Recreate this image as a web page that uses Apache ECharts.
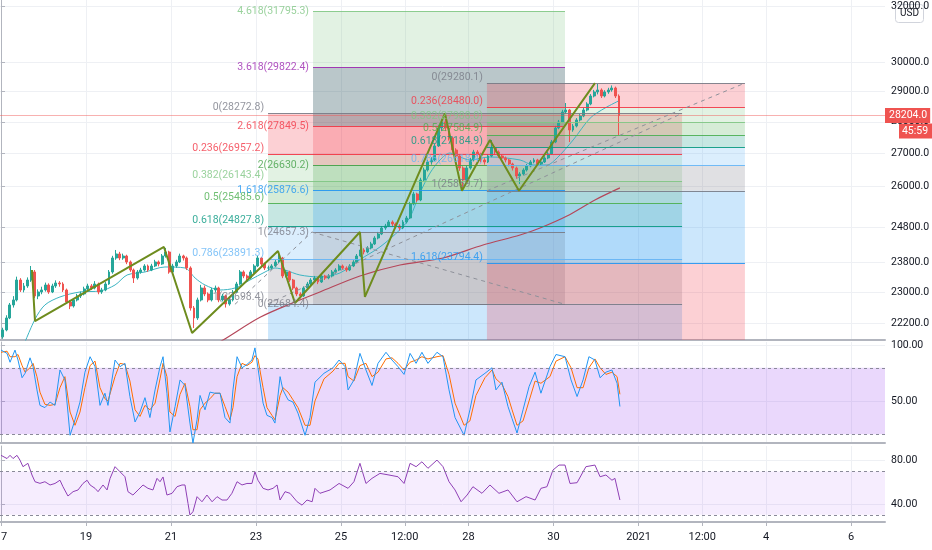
<!DOCTYPE html>
<html><head><meta charset="utf-8">
<script src="https://cdn.jsdelivr.net/npm/echarts@6/dist/echarts.min.js"></script>
<style>html,body{margin:0;padding:0;background:#fff}#c{width:932px;height:550px}</style>
</head><body><div id="c"></div>
<script>
// ---------- DATA ----------
// time axis: hours since 17 Dec 2020 00:00
const xTickHours = [0,48,96,144,192,228,264,312,360,396,432,480];
const xTickLabels = ['17','19','21','23','25','12:00','28','30','2021','12:00','4','6'];
const priceTicks = [22200,23000,23800,24800,26000,27000,28000,29000,30000,32000];
const stochTicks = [50,100];
const rsiTicks = [40,80];

const candleStartHour = 0, candleStepHours = 2;
// [open, close, low, high]
const candleOHLC = [
[21850,22023,21800,22080],[22023,22330,21990,22400],[22330,22668,22300,22720],[22668,22799,22600,22900],
[22799,23330,22760,23420],[23330,23063,23010,23380],[23063,23170,23000,23250],[23170,23330,23120,23400],
[23330,23547,23280,23710],[23547,22904,22850,23600],[22904,23010,22820,23080],[23010,23063,22950,23150],
[23063,23196,23020,23260],[23196,23010,22960,23240],[23010,23170,22980,23230],[23170,23250,23120,23320],
[23250,23223,23150,23300],[23223,23063,23010,23270],[23063,22746,22700,23100],[22746,22641,22560,22800],
[22641,22799,22600,22850],[22799,22904,22760,22960],[22904,22957,22850,23020],[22957,23090,22920,23150],
[23090,23170,23040,23230],[23170,23116,23060,23220],[23116,23223,23080,23300],[23223,23010,22950,23260],
[23010,23063,22960,23120],[23063,23223,23030,23280],[23223,23547,23200,23600],[23547,23930,23500,23990],
[23930,24041,23880,24152],[24041,23930,23870,24100],[23930,23985,23880,24050],[23985,23820,23760,24020],
[23820,23601,23550,23860],[23601,23384,23250,23640],[23384,23547,23340,23600],[23547,23601,23500,23660],
[23601,23710,23560,23760],[23710,23601,23550,23750],[23601,23710,23570,23770],[23710,23820,23680,23880],
[23820,23765,23700,23860],[23765,23985,23740,24040],[23985,24096,23940,24208],[24096,23547,23500,24130],
[23547,23710,23480,23770],[23710,23820,23660,23880],[23820,23985,23790,24050],[23985,23930,23860,24020],
[23930,23656,23600,23970],[23656,22589,22520,23700],[22589,22330,22074,22640],[22330,22799,22280,22860],
[22799,23116,22760,23200],[23116,22957,22900,23180],[22957,22799,22740,23000],[22799,23063,22760,23120],
[23063,23116,23000,23180],[23116,22799,22740,23150],[22799,22904,22760,22960],[22904,22694,22600,22940],
[22694,22799,22650,22860],[22799,23010,22760,23060],[23010,23223,22980,23280],[23223,23547,23200,23600],
[23547,23438,23380,23590],[23438,23384,23320,23480],[23384,23547,23350,23600],[23547,23710,23500,23760],
[23710,23930,23680,23990],[23930,23765,23700,23960],[23765,23656,23600,23800],[23656,23656,23590,23720],
[23656,23710,23610,23760],[23710,23820,23680,23880],[23820,23930,23790,24041],[23930,23438,23380,23960],
[23438,23547,23400,23600],[23547,23330,23280,23580],[23330,23116,23060,23360],[23116,22957,22900,23150],
[22957,22904,22840,23000],[22904,23116,22880,23160],[23116,23223,23080,23280],[23223,23330,23190,23380],
[23330,23384,23290,23440],[23384,23277,23220,23410],[23277,23438,23250,23490],[23438,23384,23330,23470],
[23384,23438,23350,23490],[23438,23547,23400,23600],[23547,23601,23500,23650],[23601,23710,23570,23760],
[23710,23656,23600,23750],[23656,23601,23550,23700],[23601,23710,23570,23760],[23710,23820,23680,23870],
[23820,23985,23790,24040],[23985,24152,23950,24602],[24152,24096,24030,24200],[24096,24208,24060,24260],
[24208,24320,24170,24380],[24320,24488,24290,24540],[24488,24602,24450,24660],[24602,24773,24570,24830],
[24773,24830,24720,24890],[24830,24944,24800,25000],[24944,24887,24820,24990],[24887,24830,24760,24930],
[24830,24773,24700,24880],[24773,24944,24740,25000],[24944,25060,24900,25120],[25060,25468,25030,25530],
[25468,25763,25430,25830],[25763,25586,25520,25800],[25586,26183,25550,26250],[26183,26486,26150,26560],
[26486,26732,26440,26800],[26732,26794,26650,26880],[26794,27230,26760,27300],[27230,27801,27200,27880],
[27801,27994,27700,28080],[27994,27801,27700,28272],[27801,27482,27400,27850],[27482,27104,27020,27520],
[27104,26918,26840,27160],[26918,26548,26460,26960],[26548,26183,25900,26600],[26183,26548,26140,26620],
[26548,26794,26500,26860],[26794,27042,26750,27110],[27042,26980,26900,27100],[26980,26794,26720,27020],
[26794,26732,26650,26850],[26732,26918,26700,26980],[26918,27167,26880,27419],[27167,27042,26960,27220],
[27042,26918,26850,27090],[26918,26856,26790,26960],[26856,26794,26720,26900],[26794,26671,26600,26830],
[26671,26548,26470,26710],[26548,26304,26220,26590],[26304,26365,26062,26420],[26365,26486,26320,26540],
[26486,26609,26440,26670],[26609,26732,26570,26790],[26732,26794,26690,26850],[26794,26671,26610,26830],
[26671,26732,26620,26790],[26732,26856,26700,26910],[26856,26980,26820,27040],[26980,27356,26950,27420],
[27356,27801,27320,27870],[27801,27994,27760,28060],[27994,28319,27960,28390],[28319,28384,28250,28614],
[28384,27737,27356,28420],[27737,27865,27680,27930],[27865,28059,27820,28120],[28059,28189,28010,28250],
[28189,28384,28150,28450],[28384,28581,28340,28640],[28581,28846,28540,28910],[28846,28980,28800,29050],
[28980,29047,28900,29249],[29047,28846,28780,29100],[28846,28980,28800,29040],[28980,29047,28920,29120],
[29047,29114,28990,29200],[29114,28846,28780,29160],[28846,28204,27578,28900]
];
const lastPrice = 28204.0;
const countdownText = '45:59';

// moving averages [hour, price]
const maFast = [[11.9,21540],[19.2,22298],[24.8,22668],[33.3,22878],[44.6,23010],[55.9,23036],[64.4,23196],[71.2,23465],[81.3,23547],[92.6,23683],[103.9,23656],[109.6,23384],[115.2,23196],[123.7,23063],[132.1,23116],[140.6,23330],[149.1,23547],[154.7,23656],[160.4,23601],[168.8,23465],[180.1,23411],[191.4,23520],[202.7,23887],[214.0,24236],[225.3,24724],[231.0,25088],[236.6,25793],[242.3,26395],[247.9,26794],[253.5,27011],[259.2,26887],[264.8,26794],[276.1,26887],[293.1,26794],[300.5,26640],[308.3,26640],[314.0,26856],[323.1,27419],[332.7,28120],[341.1,28449],[349.5,28704]];
const maSlow = [[118,21600],[125.4,21770],[146.3,22349],[168.8,22799],[180.1,23010],[202.7,23438],[225.3,23737],[249.6,23930],[272.2,24292],[293.1,24573],[304.4,24773],[319.6,25117],[335.4,25586],[349.5,25945]];

// zigzag pattern drawing [hour, price]
const zigzag = [[17.5,23601],[19.2,22247],[92.0,24236],[107.9,21947],[156.4,24124],[166.0,22720],[202.7,24657],[205.5,22878],[250.7,28273],[260.3,25860],[276.1,27419],[292.5,25860],[335.4,29280]];

// dashed trend lines of the fib tools
const trendA = [[132.1,22684.4],[175.6,24657.3]];
const trendB = [[175.6,24657.3],[318.5,22684.4]];
const trendR1 = [[150.8,22698.4],[384.6,28272.8]];
const trendR2 = [[274.4,25859.7],[420.1,29280.1]];

// fib retracement 1
const r1Ratios = [0,0.236,0.382,0.5,0.618,0.786,1];
const r1Prices = [28272.8,26957.2,26143.4,25485.6,24827.8,23891.3,22698.4];
const r1Span = [150.8,384.6];
const r1Tail = 1.618;
// trend-based fib extension
const extRatios = [0,1,1.618,2,2.618,3.618,4.618];
const extPrices = [22684.4,24657.3,25876.6,26630.2,27849.5,29822.4,31795.3];
const extSpan = [176.2,318.5];
// fib retracement 2
const r2Ratios = [0,0.236,0.382,0.5,0.618,0.786,1,1.618];
const r2Prices = [29280.1,28480.0,27988.0,27584.9,27184.9,26618.4,25859.7,23794.4];
const r2Span = [274.4,420.1];
const r2Tail = 2.618;

// Stochastic %K, %D and RSI  [hour, value]
const stochK = [[0,96],[3.4,93],[5.1,85],[7.9,96],[9.6,87],[11.9,71],[13.6,75],[16.4,89],[18.1,81],[20.3,60],[22,46],[24.8,44],[27.7,49],[30.5,46],[33.3,78],[36.1,69],[39,19],[41.8,33],[44.6,49],[47.4,76],[50.3,90],[53.1,81],[55.9,46],[58.7,57],[60.4,46],[64.4,87],[67.2,81],[70,84],[72.8,54],[75.7,31],[78.5,40],[81.3,53],[84.1,35],[87,60],[89.8,81],[91.5,90],[93.7,57],[95.4,22],[98.3,45],[101.1,69],[103.9,64],[106.7,30],[108.4,12],[110.7,33],[112.4,55],[115.2,42],[118,58],[120.8,57],[123.7,57],[126.5,35],[129.3,30],[131,60],[133.3,90],[136.1,80],[138.9,83],[141.7,87],[143.4,98],[145.1,80],[148,48],[150.2,37],[153,35],[154.7,30],[157.6,72],[159.2,60],[162.1,51],[164.9,49],[167.7,39],[171.7,19],[174.5,35],[177.3,67],[182.4,75],[187.5,80],[190.9,87],[194.3,81],[196,60],[199.3,69],[202.7,93],[206.1,78],[209.5,64],[212.9,84],[217.4,94],[220.8,87],[224.2,81],[227.6,74],[231,93],[234.4,84],[237.7,94],[241.1,84],[246.2,94],[249.6,90],[253,60],[256.4,35],[261.5,19],[264.8,42],[268.2,69],[273.3,75],[277.3,80],[279.5,60],[282.9,67],[286.3,45],[288.6,34],[291.4,21],[294.8,42],[298.2,63],[301.6,76],[304.9,57],[310,81],[313.4,92],[318.5,90],[321.9,69],[325.3,54],[328.7,69],[332,90],[335.4,87],[338.3,71],[341.6,76],[345,78],[347.9,66],[349.5,45]];
const stochD = [[0,94],[3.4,95],[5.1,90],[7.9,90],[9.6,92],[11.9,82],[13.6,76],[16.4,80],[18.1,84],[20.3,72],[22,58],[24.8,47],[27.7,46],[30.5,47],[33.3,62],[36.1,72],[39,40],[41.8,28],[44.6,40],[47.4,62],[50.3,82],[53.1,86],[55.9,62],[58.7,52],[60.4,50],[64.4,72],[67.2,84],[70,83],[72.8,68],[75.7,42],[78.5,36],[81.3,46],[84.1,42],[87,48],[89.8,70],[91.5,84],[93.7,72],[95.4,40],[98.3,36],[101.1,56],[103.9,66],[106.7,45],[108.4,24],[110.7,24],[112.4,42],[115.2,48],[118,52],[120.8,57],[123.7,57],[126.5,45],[129.3,33],[131,44],[133.3,72],[136.1,84],[138.9,82],[141.7,85],[143.4,91],[145.1,88],[148,62],[150.2,44],[153,37],[154.7,33],[157.6,55],[159.2,62],[162.1,58],[164.9,51],[167.7,44],[171.7,28],[174.5,28],[177.3,50],[182.4,70],[187.5,77],[190.9,84],[194.3,84],[196,72],[199.3,68],[202.7,82],[206.1,84],[209.5,72],[212.9,76],[217.4,88],[220.8,89],[224.2,84],[227.6,78],[231,85],[234.4,87],[237.7,90],[241.1,88],[246.2,90],[249.6,91],[253,74],[256.4,48],[261.5,28],[264.8,32],[268.2,55],[273.3,71],[277.3,78],[279.5,70],[282.9,65],[286.3,54],[288.6,42],[291.4,28],[294.8,32],[298.2,50],[301.6,68],[304.9,66],[310,72],[313.4,86],[318.5,90],[321.9,80],[325.3,62],[328.7,62],[332,80],[335.4,88],[338.3,80],[341.6,74],[345,76],[347.9,72],[349.5,56]];
const rsi = [[0,85],[1.1,86.8],[3.4,82],[5.1,85],[6.8,82],[9,85],[10.7,80.6],[12.4,74.5],[15.2,77.6],[17.5,66.8],[19.2,60.6],[22,59.1],[24.8,60.6],[27.7,57.6],[30.5,59],[33.3,62],[35,56],[37.8,47.4],[40.7,51.4],[43.5,53],[46.3,59],[48.6,62],[50.3,57.6],[53.1,54.5],[54.8,51.4],[57.6,57.6],[59.9,53],[61.6,63.7],[64.4,74.5],[67.2,69.8],[70,65.2],[71.7,51.4],[74.5,48.3],[77.4,53],[80.2,57.6],[83,54.5],[85.8,53],[88.1,63.7],[89.8,60.6],[91.5,65],[93.7,48.3],[96.6,49.9],[99.4,56],[102.2,57.6],[103.9,57.6],[105.6,40.6],[106.7,29.8],[108.4,32.9],[110.7,46.8],[113.5,42.1],[116.3,48.3],[119.2,42.1],[122,46.8],[124.8,43.7],[127.6,43.7],[130.4,49.9],[133.3,60.6],[136.1,57.6],[138.9,59],[141.7,59],[143.4,69.8],[145.1,62],[148,54.5],[150.8,53],[153.6,54.5],[155.9,57.6],[157.6,43.7],[160.4,51.4],[163.2,49.9],[167.2,42.1],[170,39],[172.8,43.7],[175.7,42.1],[177.3,54.5],[180.1,49.9],[185.8,53],[190.9,59],[196,54.5],[199.3,60.6],[202.7,77.6],[206.1,59],[209.5,63.7],[214,68.3],[219.1,66.8],[224.2,65.2],[227.6,59],[231,77.6],[234.4,74.5],[237.7,79],[241.1,73],[246.2,80.6],[249.6,74.5],[253,60.6],[256.4,53],[259.8,42.1],[263.2,48.3],[266.5,56],[271.6,49.9],[276.1,57.6],[281.2,49.9],[286.3,53],[291.4,42.1],[296.5,46.8],[301.6,43.7],[304.9,54.5],[308.3,56],[311.7,71.4],[315.1,76],[318.5,76],[321.3,59],[325.3,59.7],[330.3,74.5],[335.4,76],[338.3,65.2],[341.6,66.8],[345,62],[346.7,63.7],[349.5,43.7]];
const stochBand = [20,80];
const rsiBand = [30,70];

// ---------- STYLE ----------
const xMin = -0.565, xMax = 499.2;
const yMin = 21770, yMax = 32224;
const FONT = 'Roboto';
const levelColor = {'0':'#787b86','0.236':'#f23645','0.382':'#81c784','0.5':'#4caf50','0.618':'#089981','0.786':'#64b5f6','1':'#787b86','1.618':'#2196f3','2':'#43a047','2.618':'#f23645','3.618':'#9c27b0','4.618':'#81c784'};
function hexA(hex,a){const n=parseInt(hex.slice(1),16);return 'rgba('+(n>>16)+','+((n>>8)&255)+','+(n&255)+','+a+')';}
const fillOverride = {ext:{'3.618':'rgba(45,85,95,0.33)'}};
const FILL_A = 0.23;

const chart = echarts.init(document.getElementById('c'));

function fibSeries(key, ratios, prices, span, tail, above){
  const zones = [];
  for(let k=1;k<ratios.length;k++){
    const r = String(ratios[k]);
    const col = (fillOverride[key]&&fillOverride[key][r]) || hexA(levelColor[r],FILL_A);
    zones.push([{coord:[span[0],prices[k-1]],itemStyle:{color:col}},{coord:[span[1],prices[k]]}]);
  }
  if(tail!=null){
    zones.push([{coord:[span[0],prices[prices.length-1]],itemStyle:{color:hexA(levelColor[String(tail)],FILL_A)}},{coord:[span[1],yMin]}]);
  }
  const lines = ratios.map((r,k)=>[{coord:[span[0],prices[k]],lineStyle:{color:levelColor[String(r)],width:1,opacity:0.9,type:'solid'}},{coord:[span[1],prices[k]]}]);
  const labels = ratios.map((r,k)=>({value:[span[0],prices[k]],label:{color:levelColor[String(r)],formatter:String(r)+'('+prices[k].toFixed(1)+')',offset:[0,above?-6:0]}}));
  return [
    {type:'line',xAxisIndex:0,yAxisIndex:0,data:[],z:3,silent:true,markArea:{silent:true,data:zones}},
    {type:'line',xAxisIndex:0,yAxisIndex:0,data:[],z:4,silent:true,markLine:{silent:true,symbol:['none','none'],label:{show:false},lineStyle:{type:'solid'},data:lines}},
    {type:'scatter',xAxisIndex:0,yAxisIndex:0,symbolSize:0,z:7,silent:true,data:labels,label:{show:true,position:'left',distance:4,fontSize:10.5,fontFamily:FONT}}
  ];
}

const candleData = candleOHLC.map((r,i)=>[candleStartHour+i*candleStepHours+candleStepHours/2].concat(r));
const labelMap = {}; xTickHours.forEach((h,i)=>labelMap[h]=xTickLabels[i]);

const axisGray = '#b2b5be', gridCol = '#eef0f4';
const grids = [{top:0,height:340},{top:342,height:101},{top:446,height:76}];

const dashed = (d)=>({type:'line',xAxisIndex:0,yAxisIndex:0,data:d,showSymbol:false,symbol:'none',z:5,silent:true,lineStyle:{color:'#8d9099',width:1,type:[4,4]}});

const option = {
  animation:false,
  textStyle:{fontFamily:FONT},
  grid: grids.map(g=>({left:0,right:47,top:g.top,height:g.height,containLabel:false,outerBoundsMode:'none'})),
  xAxis: [0,1,2].map(i=>({
    type:'value',gridIndex:i,min:xMin,max:xMax,
    axisLine:{show:true,onZero:false,lineStyle:{color:axisGray,width:2}},
    axisTick:{show:i===2,customValues:xTickHours,length:4,lineStyle:{color:axisGray}},
    axisLabel:{show:i===2,customValues:xTickHours,alignMinLabel:'center',alignMaxLabel:'center',formatter:v=>labelMap[v]!==undefined?labelMap[v]:'',color:'#131722',fontSize:11,margin:10,fontFamily:FONT},
    splitLine:{show:true,lineStyle:{color:gridCol,width:1}}
  })),
  yAxis: [
    {type:'log',gridIndex:0,position:'right',min:yMin,max:yMax,
     axisLine:{show:true,lineStyle:{color:axisGray}},axisTick:{show:true,customValues:priceTicks,length:4,lineStyle:{color:axisGray}},
     axisLabel:{customValues:priceTicks,formatter:v=>Number(v).toFixed(1),color:'#131722',fontSize:10.5,margin:6,fontFamily:FONT},
     splitLine:{show:true,lineStyle:{color:gridCol}}},
    {type:'value',gridIndex:1,position:'right',min:12,max:103.3,
     axisLine:{show:true,lineStyle:{color:axisGray}},axisTick:{show:true,customValues:stochTicks,length:4,lineStyle:{color:axisGray}},
     axisLabel:{customValues:stochTicks,formatter:v=>Number(v).toFixed(2),color:'#131722',fontSize:10.5,margin:6,fontFamily:FONT},
     splitLine:{show:true,lineStyle:{color:gridCol}}},
    {type:'value',gridIndex:2,position:'right',min:23.4,max:93.6,
     axisLine:{show:true,lineStyle:{color:axisGray}},axisTick:{show:true,customValues:rsiTicks,length:4,lineStyle:{color:axisGray}},
     axisLabel:{customValues:rsiTicks,formatter:v=>Number(v).toFixed(2),color:'#131722',fontSize:10.5,margin:6,fontFamily:FONT},
     splitLine:{show:true,lineStyle:{color:gridCol}}}
  ],
  series: [
    {type:'candlestick',xAxisIndex:0,yAxisIndex:0,data:candleData,barWidth:2.4,z:2,
     itemStyle:{color:'#26a69a',color0:'#ef5350',borderColor:'#26a69a',borderColor0:'#ef5350',borderWidth:1},
     markLine:{silent:true,symbol:['none','none'],data:[{yAxis:lastPrice}],
       lineStyle:{color:'rgba(239,83,80,0.45)',type:'solid',width:1},
       label:{show:true,position:'end',distance:0,formatter:lastPrice.toFixed(1),color:'#fff',backgroundColor:'#ef5350',padding:[2,3,2,4],fontSize:10.5,fontFamily:FONT}}},
    {type:'line',xAxisIndex:0,yAxisIndex:0,data:maFast,showSymbol:false,smooth:0.3,z:2,silent:true,lineStyle:{color:'#3cb4c2',width:1}},
    {type:'line',xAxisIndex:0,yAxisIndex:0,data:maSlow,showSymbol:false,smooth:0.3,z:2,silent:true,lineStyle:{color:'#b5475a',width:1.2}},
    ...fibSeries('r1',r1Ratios,r1Prices,r1Span,r1Tail,true),
    ...fibSeries('ext',extRatios,extPrices,extSpan,null,false),
    ...fibSeries('r2',r2Ratios,r2Prices,r2Span,r2Tail,true),
    dashed(trendA),dashed(trendB),dashed(trendR1),dashed(trendR2),
    {type:'line',xAxisIndex:0,yAxisIndex:0,data:zigzag,showSymbol:false,z:6,silent:true,lineStyle:{color:'#6e8c1e',width:2}},
    // stochastic pane
    {type:'line',xAxisIndex:1,yAxisIndex:1,data:[],silent:true,z:1,
     markArea:{silent:true,itemStyle:{color:'rgba(150,60,240,0.2)'},data:[[{yAxis:stochBand[0]},{yAxis:stochBand[1]}]]},
     markLine:{silent:true,symbol:['none','none'],label:{show:false},lineStyle:{color:'#8a8a99',type:[3,3],width:1},data:[{yAxis:stochBand[0]},{yAxis:stochBand[1]}]}},
    {type:'line',xAxisIndex:1,yAxisIndex:1,data:stochD,showSymbol:false,z:3,silent:true,lineStyle:{color:'#ff6d00',width:1}},
    {type:'line',xAxisIndex:1,yAxisIndex:1,data:stochK,showSymbol:false,z:4,silent:true,lineStyle:{color:'#2196f3',width:1}},
    // RSI pane
    {type:'line',xAxisIndex:2,yAxisIndex:2,data:[],silent:true,z:1,
     markArea:{silent:true,itemStyle:{color:'rgba(150,60,240,0.09)'},data:[[{yAxis:rsiBand[0]},{yAxis:rsiBand[1]}]]},
     markLine:{silent:true,symbol:['none','none'],label:{show:false},lineStyle:{color:'#8a8a99',type:[3,3],width:1},data:[{yAxis:rsiBand[0]},{yAxis:rsiBand[1]}]}},
    {type:'line',xAxisIndex:2,yAxisIndex:2,data:rsi,showSymbol:false,z:3,silent:true,lineStyle:{color:'#8e3fb5',width:1}}
  ]
};
chart.setOption(option);

const py = chart.convertToPixel({xAxisIndex:0,yAxisIndex:0},[0,lastPrice])[1];
chart.setOption({graphic:[
  {type:'group',left:895,top:4,z:100,children:[
    {type:'rect',shape:{x:0,y:0,width:28,height:18,r:3},style:{fill:'#fff',stroke:'#d1d4dc',lineWidth:1}},
    {type:'text',style:{x:14,y:9,text:'USD',fill:'#131722',font:'10px '+FONT,align:'center',verticalAlign:'middle'}}
  ]},
  {type:'group',left:899,top:py+8,z:100,children:[
    {type:'rect',shape:{x:0,y:0,width:33,height:15},style:{fill:'#ef5350'}},
    {type:'text',style:{x:16,y:7.5,text:countdownText,fill:'#fff',font:'10.5px '+FONT,align:'center',verticalAlign:'middle'}}
  ]}
]});
</script></body></html>
